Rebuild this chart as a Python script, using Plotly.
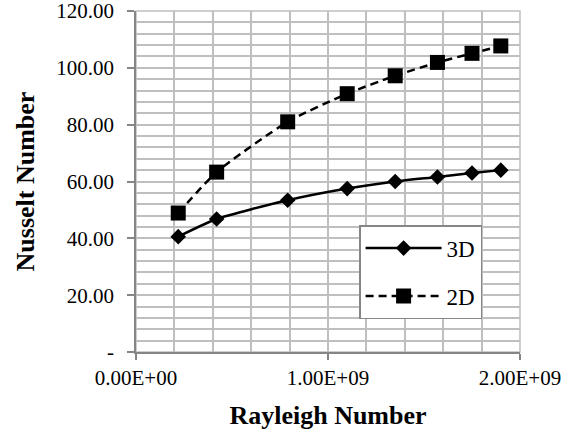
import plotly.graph_objects as go

rayleigh = [0.22e9, 0.42e9, 0.79e9, 1.10e9, 1.35e9, 1.57e9, 1.75e9, 1.90e9]
nu_3d = [40.6, 46.8, 53.4, 57.5, 60.0, 61.6, 63.0, 64.0]
nu_2d = [48.9, 63.3, 81.0, 90.9, 97.2, 101.9, 105.1, 107.7]

x_tickvals = [0, 1e9, 2e9]
x_ticktext = ["0.00E+00", "1.00E+09", "2.00E+09"]
y_tickvals = [0, 20, 40, 60, 80, 100, 120]
y_ticktext = ["-", "20.00", "40.00", "60.00", "80.00", "100.00", "120.00"]

FONT = "Times New Roman, Liberation Serif, serif"
GRID = "#bfbfbf"
AXIS = "#868686"

fig = go.Figure()
fig.add_trace(go.Scatter(
    x=rayleigh, y=nu_3d, name="3D", mode="lines+markers", legendgroup="a",
    line=dict(color="black", width=2.5, shape="spline", smoothing=0.6),
    marker=dict(symbol="diamond", size=12, color="black"),
))
fig.add_trace(go.Scatter(
    x=rayleigh, y=nu_2d, name="2D", mode="lines+markers", legendgroup="b",
    line=dict(color="black", width=2.5, dash="8px,5px", shape="spline", smoothing=0.6),
    marker=dict(symbol="square", size=15, color="black"),
))

fig.add_shape(type="rect", xref="x domain", yref="y domain", x0=0, x1=1, y0=0, y1=1,
              line=dict(color=GRID, width=1.5), layer="below")

fig.update_layout(
    width=572, height=430,
    margin=dict(l=136, r=52, t=11, b=78, autoexpand=False),
    paper_bgcolor="white", plot_bgcolor="white",
    font=dict(family=FONT, size=21, color="black"),
    showlegend=True,
    legend=dict(
        x=0.581, y=0.372, xanchor="left", yanchor="top",
        bgcolor="white", bordercolor=AXIS, borderwidth=1.5,
        font=dict(family=FONT, size=23, color="black"),
        traceorder="grouped", tracegroupgap=15, itemwidth=76,
    ),
    xaxis=dict(
        range=[0, 2e9], tickmode="array", tickvals=x_tickvals, ticktext=x_ticktext,
        automargin=False, ticklabeloverflow="allow",
        showgrid=True, gridcolor=GRID, gridwidth=1.5,
        minor=dict(tickmode="linear", tick0=0, dtick=2e8, showgrid=True,
                   gridcolor=GRID, gridwidth=1.5, ticks=""),
        showline=True, linecolor=AXIS, linewidth=1.5,
        ticks="outside", ticklen=6, tickcolor=AXIS, tickwidth=1.5,
        ticklabelstandoff=0,
        zeroline=False,
        tickfont=dict(family=FONT, size=21, color="black"),
        title=dict(text="<b>Rayleigh Number</b>", standoff=18,
                   font=dict(family=FONT, size=26, color="black")),
    ),
    yaxis=dict(
        range=[0, 120], tickmode="array", tickvals=y_tickvals, ticktext=y_ticktext,
        automargin=False, ticklabeloverflow="allow",
        showgrid=True, gridcolor=GRID, gridwidth=1.5,
        minor=dict(tickmode="linear", tick0=0, dtick=4, showgrid=True,
                   gridcolor=GRID, gridwidth=1.5, ticks=""),
        showline=True, linecolor=AXIS, linewidth=1.5,
        ticks="outside", ticklen=7, tickcolor=AXIS, tickwidth=1.5,
        ticklabelstandoff=9,
        zeroline=False,
        tickfont=dict(family=FONT, size=21, color="black"),
        title=dict(text="<b>Nusselt Number</b>", standoff=14,
                   font=dict(family=FONT, size=26, color="black")),
    ),
)

fig.write_html("out.html")
